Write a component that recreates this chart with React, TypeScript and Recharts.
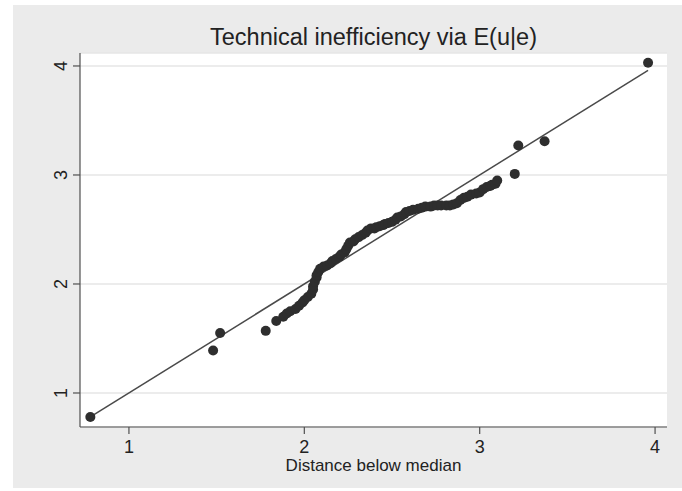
import { CartesianGrid, ReferenceLine, Scatter, ScatterChart, XAxis, YAxis } from "recharts";

// symmetry plot: distance below median vs distance above median
const distBelow = [
  0.78, 1.48, 1.52, 1.78,
  1.84, 1.88, 1.9, 1.92, 1.95, 1.97, 1.99, 2.0, 2.02, 2.04, 2.05, 2.05, 2.06, 2.07, 2.07, 2.08, 2.09, 2.11,
  2.13, 2.15, 2.16, 2.18, 2.2, 2.21, 2.23, 2.24, 2.25, 2.26, 2.28, 2.29, 2.31, 2.33, 2.35, 2.36, 2.38, 2.4,
  2.41, 2.43, 2.45, 2.46, 2.48, 2.5, 2.52, 2.53, 2.55, 2.57, 2.58, 2.6, 2.62, 2.65, 2.67, 2.69, 2.72, 2.74,
  2.76, 2.78, 2.81, 2.83, 2.85, 2.87, 2.89, 2.91, 2.93, 2.95, 2.98, 3.0, 3.02, 3.04, 3.06, 3.07, 3.09, 3.1,
  3.2, 3.22, 3.37, 3.96,
];

const distAbove = [
  0.78, 1.39, 1.55, 1.57,
  1.66, 1.7, 1.73, 1.75, 1.77, 1.8, 1.83, 1.85, 1.88, 1.91, 1.95, 1.98, 2.02, 2.06, 2.08, 2.11, 2.14, 2.16,
  2.17, 2.19, 2.21, 2.23, 2.25, 2.27, 2.29, 2.32, 2.35, 2.38, 2.39, 2.41, 2.43, 2.45, 2.47, 2.49, 2.51, 2.51,
  2.52, 2.53, 2.54, 2.55, 2.56, 2.57, 2.59, 2.61, 2.62, 2.64, 2.66, 2.67, 2.68, 2.69, 2.7, 2.71, 2.71, 2.72,
  2.72, 2.72, 2.72, 2.72, 2.73, 2.74, 2.77, 2.79, 2.8, 2.82, 2.83, 2.84, 2.87, 2.89, 2.9, 2.91, 2.92, 2.95,
  3.01, 3.27, 3.31, 4.03,
];

const axisTicks = [1, 2, 3, 4];
const refLine = [0.78, 3.96];

const points = distBelow.map((x, i) => ({ x, y: distAbove[i] }));

const FONT = '"Liberation Sans", Arial, Helvetica, sans-serif';
const AXIS = "#4f4f4f";
const INK = "#222";

function YTick(props: any) {
  const { x, y, payload } = props;
  return (
    <text
      x={x}
      y={y}
      transform={`rotate(-90 ${x} ${y})`}
      textAnchor="middle"
      dominantBaseline="central"
      fontSize={18}
      fontFamily={FONT}
      fill={INK}
    >
      {payload.value}
    </text>
  );
}

function XTick(props: any) {
  const { x, y, payload } = props;
  return (
    <text x={x} y={y + 19} textAnchor="middle" fontSize={18} fontFamily={FONT} fill={INK}>
      {payload.value}
    </text>
  );
}

function Dot(props: any) {
  return <circle cx={props.cx} cy={props.cy} r={5} fill="#2e2e2e" />;
}

export default function App() {
  return (
    <div style={{ position: "absolute", left: 0, top: 0, width: 682, height: 491, background: "#fff", fontFamily: FONT }}>
      <div style={{ position: "absolute", left: 13, top: 5, width: 669, height: 483, background: "#ebebeb" }} />
      <div
        style={{ position: "absolute", left: 80, top: 25, width: 587, textAlign: "center", fontSize: 23.5, lineHeight: "24px", color: INK }}
      >
        Technical inefficiency via E(u|e)
      </div>
      <div
        style={{ position: "absolute", left: 80, top: 458, width: 587, textAlign: "center", fontSize: 17, lineHeight: "15px", color: INK }}
      >
        Distance below median
      </div>
      <div style={{ position: "absolute", left: 0, top: 0 }}>
        <ScatterChart width={682} height={491} margin={{ top: 53, right: 15, bottom: 24, left: 20 }}>
          <CartesianGrid horizontal vertical={false} stroke="#e6e6e6" strokeWidth={1.5} fill="#ffffff" fillOpacity={1} />
          <XAxis
            type="number"
            dataKey="x"
            domain={[0.721, 4.068]}
            ticks={axisTicks}
            allowDataOverflow
            height={40}
            tickSize={7}
            tickMargin={0}
            axisLine={{ stroke: AXIS, strokeWidth: 1.2 }}
            tickLine={{ stroke: AXIS, strokeWidth: 1.2 }}
            tick={<XTick />}
          />
          <YAxis
            type="number"
            dataKey="y"
            domain={[0.688, 4.119]}
            ticks={axisTicks}
            allowDataOverflow
            width={60}
            tickSize={7}
            tickMargin={12}
            axisLine={{ stroke: AXIS, strokeWidth: 1.2 }}
            tickLine={{ stroke: AXIS, strokeWidth: 1.2 }}
            tick={<YTick />}
          />
          <ReferenceLine
            segment={[
              { x: refLine[0], y: refLine[0] },
              { x: refLine[1], y: refLine[1] },
            ]}
            stroke="#4a4a4a"
            strokeWidth={1.5}
          />
          <Scatter data={points} shape={<Dot />} isAnimationActive={false} />
        </ScatterChart>
      </div>
    </div>
  );
}
